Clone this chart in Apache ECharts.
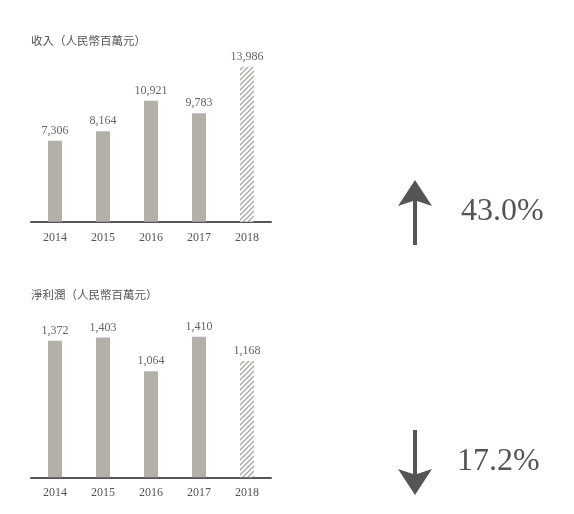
<!DOCTYPE html>
<html><head><meta charset="utf-8">
<script src="https://cdn.jsdelivr.net/npm/echarts@6/dist/echarts.min.js"></script>
<style>html,body{margin:0;padding:0;background:#fff}#c{width:574px;height:514px}</style>
</head><body><div id="c"></div>
<script>
const years = ['2014','2015','2016','2017','2018'];
const revenue = [7306, 8164, 10921, 9783, 13986];
const profit = [1372, 1403, 1064, 1410, 1168];
const revenueTitle = '收入（人民幣百萬元）';
const profitTitle = '淨利潤（人民幣百萬元）';
const revenueChange = '43.0%';
const profitChange = '17.2%';

const serif = '"Liberation Serif", "DejaVu Serif", serif';
const cjk = '"Noto Sans CJK TC", "Noto Sans CJK SC", sans-serif';
const barColor = '#b3b0a8';

function hatch() {
  const c = document.createElement('canvas');
  c.width = 5; c.height = 5;
  const g = c.getContext('2d');
  g.fillStyle = '#fff'; g.fillRect(0,0,5,5);
  g.strokeStyle = '#a9a69f'; g.lineWidth = 1.3;
  g.beginPath();
  g.moveTo(0,5); g.lineTo(5,0);
  g.moveTo(-1,1); g.lineTo(1,-1);
  g.moveTo(4,6); g.lineTo(6,4);
  g.stroke();
  return {image: c, repeat: 'repeat'};
}
const pat = hatch();

function barData(arr) {
  return arr.map((v, i) => i === arr.length - 1
    ? {value: v, itemStyle: {color: pat}}
    : {value: v});
}
const fmt = p => p.value.toLocaleString('en-US');

const chart = echarts.init(document.getElementById('c'), null, {renderer: 'canvas'});
chart.setOption({
  animation: false,
  title: [
    {text: revenueTitle, left: 26, top: 30, textStyle: {fontFamily: cjk, fontSize: 11.5, fontWeight: 'normal', color: '#555'}},
    {text: profitTitle, left: 26, top: 284, textStyle: {fontFamily: cjk, fontSize: 11.5, fontWeight: 'normal', color: '#555'}}
  ],
  grid: [
    {left: 31, width: 240, top: 66.6, height: 155.1},
    {left: 31, width: 240, top: 327.9, height: 149.4}
  ],
  xAxis: [0,1].map(i => ({
    type: 'category', data: years, gridIndex: i,
    axisLine: {lineStyle: {color: '#555', width: 2}},
    axisTick: {show: false},
    axisLabel: {fontFamily: serif, fontSize: 12, color: '#555', margin: 10}
  })),
  yAxis: [
    {type: 'value', gridIndex: 0, min: 0, max: 14000, show: false, splitLine: {show: false}},
    {type: 'value', gridIndex: 1, min: 0, max: 1500, show: false, splitLine: {show: false}}
  ],
  series: [
    {type: 'bar', xAxisIndex: 0, yAxisIndex: 0, data: barData(revenue), barWidth: 14,
     itemStyle: {color: barColor},
     label: {show: true, position: 'top', distance: 4, formatter: fmt, fontFamily: serif, fontSize: 12, color: '#666'}},
    {type: 'bar', xAxisIndex: 1, yAxisIndex: 1, data: barData(profit), barWidth: 14,
     itemStyle: {color: barColor},
     label: {show: true, position: 'top', distance: 4, formatter: fmt, fontFamily: serif, fontSize: 12, color: '#666'}}
  ],
  graphic: [
    {type: 'polygon', shape: {points: [[415,180],[432,206],[417,201],[417,245],[413,245],[413,201],[398,206]]}, style: {fill: '#555'}},
    {type: 'polygon', shape: {points: [[415,495],[432,469],[417,474],[417,430],[413,430],[413,474],[398,469]]}, style: {fill: '#555'}},
    {type: 'text', x: 461, y: 212, style: {text: revenueChange, font: '32px ' + serif, fill: '#555', textVerticalAlign: 'middle'}},
    {type: 'text', x: 457, y: 462, style: {text: profitChange, font: '32px ' + serif, fill: '#555', textVerticalAlign: 'middle'}}
  ]
});
</script></body></html>
